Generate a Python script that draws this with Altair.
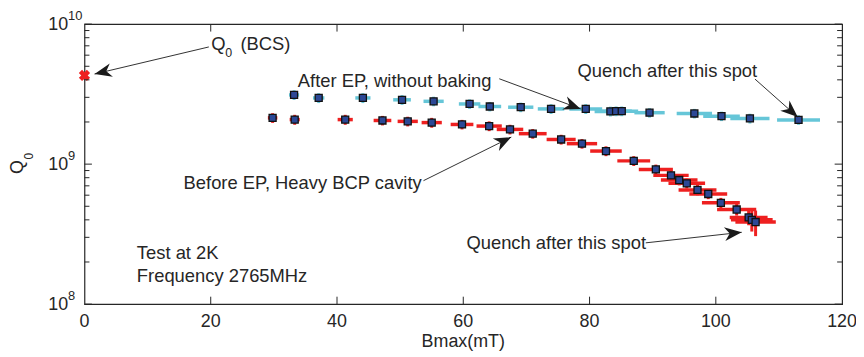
import math
import altair as alt
import pandas as pd

# ---------------- data ----------------
# After EP, without baking  (Q0 in units of 1e9)
after_b = [33.2, 37.1, 44.1, 50.3, 55.3, 61.0, 64.2, 69.1, 73.9, 79.4, 83.3, 84.2, 85.1, 89.5, 96.6, 100.9, 105.4, 113.1]
after_q = [3.12, 2.97, 2.97, 2.88, 2.81, 2.69, 2.58, 2.55, 2.48, 2.48, 2.38, 2.39, 2.39, 2.33, 2.30, 2.20, 2.12, 2.07]
after_berr = [0.8, 0.9, 1.2, 1.4, 1.6, 1.7, 1.8, 2.0, 2.1, 2.6, 2.5, 2.5, 2.6, 2.4, 2.8, 2.9, 3.1, 3.4]
after_qerr = [0.25, 0.24, 0.24, 0.23, 0.22, 0.21, 0.20, 0.20, 0.20, 0.20, 0.19, 0.19, 0.19, 0.18, 0.18, 0.17, 0.17, 0.16]

# Before EP, heavy BCP cavity
before_b = [29.8, 33.3, 41.3, 47.2, 51.2, 55.0, 59.8, 64.1, 67.4, 71.0, 75.5, 78.8, 82.6, 87.0, 90.5, 92.9, 94.2,
            95.4, 97.1, 98.8, 100.8, 103.3, 105.2, 105.7, 106.3]
before_q = [2.14, 2.08, 2.08, 2.05, 2.02, 1.98, 1.92, 1.87, 1.77, 1.65, 1.50, 1.40, 1.24, 1.055, 0.917, 0.831, 0.770,
            0.729, 0.654, 0.612, 0.529, 0.474, 0.416, 0.400, 0.386]
before_berr = [0.75, 0.8, 1.2, 1.4, 1.6, 1.6, 1.8, 2.0, 2.1, 2.2, 2.3, 2.4, 2.5, 2.6, 2.7, 2.8, 2.9, 2.9, 3.0, 3.0,
               3.0, 3.1, 3.0, 3.3, 3.2]
before_qerr = [0.17, 0.17, 0.17, 0.16, 0.16, 0.16, 0.15, 0.15, 0.14, 0.13, 0.12, 0.11, 0.10, 0.085, 0.075, 0.07,
               0.065, 0.06, 0.055, 0.05, 0.045, 0.045, 0.05, 0.07, 0.08]

# BCS value
bcs_b = [0.0]
bcs_q = [4.3]

# axis ticks
x_ticks = [0, 20, 40, 60, 80, 100, 120]
x_tick_labels = ["0", "20", "40", "60", "80", "100", "120"]
y_major = [1e8, 1e9, 1e10]
y_major_exp = ["8", "9", "10"]
y_minor = [2e8, 3e8, 4e8, 5e8, 6e8, 7e8, 8e8, 9e8, 2e9, 3e9, 4e9, 5e9, 6e9, 7e9, 8e9, 9e9]

# annotations: text (left anchored) in data coordinates
ann_text = ["Q", "(BCS)", "After EP, without baking", "Quench after this spot",
            "Before EP, Heavy BCP cavity", "Quench after this spot", "Test at 2K", "Frequency 2765MHz"]
ann_x = [20.1, 24.7, 33.8, 78.1, 15.7, 60.5, 8.3, 8.3]
ann_y = [7.17e9, 7.17e9, 3.94e9, 4.64e9, 7.33e8, 2.75e8, 2.32e8, 1.59e8]
sub_text = ["0"]
sub_x = [22.3]
sub_y = [6.18e9]

# arrows: start -> tip (data coordinates)
arrow_x0 = [19.7, 65.7, 106.2, 53.7, 88.9]
arrow_y0 = [6.87e9, 4.07e9, 4.05e9, 7.62e8, 2.74e8]
arrow_x1 = [1.6, 78.6, 112.97, 67.6, 104.1]
arrow_y1 = [4.40e9, 2.48e9, 2.17e9, 1.56e9, 3.26e8]

# ---------------- layout / style ----------------
W, H = 763, 282
XMAX = 120.0
FONT = "Liberation Sans, Arial, Helvetica, sans-serif"
TXT = "#262626"
CYAN = "#66c6d8"
RED = "#ee2020"
SQ_FILL = "#2c4896"

xs = alt.Scale(domain=[0, XMAX], nice=False, zero=False)
ys = alt.Scale(type="log", domain=[1e8, 1e10], nice=False)


def px(b):
    return b / XMAX * W


def py(q):
    return (10 - math.log10(q)) / 2 * H


def series_df(b, q, be, qe):
    return pd.DataFrame({
        "b": b,
        "q": [v * 1e9 for v in q],
        "blo": [v - e for v, e in zip(b, be)],
        "bhi": [v + e for v, e in zip(b, be)],
        "qlo": [(v - e) * 1e9 for v, e in zip(q, qe)],
        "qhi": [(v + e) * 1e9 for v, e in zip(q, qe)],
    })


after_df = series_df(after_b, after_q, after_berr, after_qerr)
before_df = series_df(before_b, before_q, before_berr, before_qerr)
points_df = pd.concat([after_df, before_df], ignore_index=True)


def X(field):
    return alt.X(field, scale=xs, axis=None)


def Y(field):
    return alt.Y(field, scale=ys, axis=None)


def hbars(df, color):
    return alt.Chart(df).mark_rule(color=color, strokeWidth=3.5).encode(
        x=X("blo:Q"), x2="bhi:Q", y=Y("q:Q"))


def vbars(df, color):
    return alt.Chart(df).mark_rule(color=color, strokeWidth=3).encode(
        x=X("b:Q"), y=Y("qlo:Q"), y2="qhi:Q")


squares = alt.Chart(points_df).mark_square(size=50, fill=SQ_FILL, stroke="#111111", strokeWidth=1.3,
                                           opacity=1).encode(x=X("b:Q"), y=Y("q:Q"))

bcs = alt.Chart(pd.DataFrame({"b": bcs_b, "q": [v * 1e9 for v in bcs_q]})).mark_point(
    shape="cross", angle=45, size=130, filled=True, color=RED, opacity=1).encode(x=X("b:Q"), y=Y("q:Q"))

# inward ticks
tick_layers = []
for vals, ln in [(y_major, 7.5), (y_minor, 5)]:
    d = pd.DataFrame({"q": vals})
    tick_layers.append(alt.Chart(d).mark_rule(color=TXT, strokeWidth=1).encode(
        x=alt.value(0), x2=alt.value(ln), y=Y("q:Q")))
    tick_layers.append(alt.Chart(d).mark_rule(color=TXT, strokeWidth=1).encode(
        x=alt.value(W), x2=alt.value(W - ln), y=Y("q:Q")))
xt = pd.DataFrame({"b": x_ticks[1:-1]})
tick_layers.append(alt.Chart(xt).mark_rule(color=TXT, strokeWidth=1).encode(
    x=X("b:Q"), y=alt.value(H), y2=alt.value(H - 7.5)))
tick_layers.append(alt.Chart(xt).mark_rule(color=TXT, strokeWidth=1).encode(
    x=X("b:Q"), y=alt.value(0), y2=alt.value(7.5)))

# x tick labels
xlab = alt.Chart(pd.DataFrame({"b": x_ticks, "t": x_tick_labels})).mark_text(
    align="center", baseline="top", font=FONT, fontSize=18, color=TXT).encode(
    x=X("b:Q"), y=alt.value(H + 9), text="t:N")

# y tick labels 10^n
ylab_df = pd.DataFrame({"q": y_major, "e": y_major_exp, "base": ["10"] * len(y_major)})
ylab = alt.Chart(ylab_df).mark_text(align="right", baseline="middle", font=FONT, fontSize=18, color=TXT,
                                    dy=1).encode(x=alt.value(-16.5), y=Y("q:Q"), text="base:N")
yexp = alt.Chart(ylab_df).mark_text(align="left", baseline="middle", font=FONT, fontSize=13, color=TXT,
                                    dy=-8.5).encode(x=alt.value(-16.5), y=Y("q:Q"), text="e:N")

# axis titles
titles = alt.Chart(pd.DataFrame({"t": ["Bmax(mT)"]})).mark_text(
    align="center", baseline="middle", font=FONT, fontSize=18, color=TXT).encode(
    x=alt.value(W / 2), y=alt.value(H + 38), text="t:N")
ytitle = alt.Chart(pd.DataFrame({"t": ["Q"]})).mark_text(
    align="center", baseline="middle", font=FONT, fontSize=18, color=TXT, angle=270).encode(
    x=alt.value(-66.5), y=alt.value(144), text="t:N")
ytitle_sub = alt.Chart(pd.DataFrame({"t": ["0"]})).mark_text(
    align="center", baseline="middle", font=FONT, fontSize=12, color=TXT, angle=270).encode(
    x=alt.value(-56), y=alt.value(133), text="t:N")

# annotations
ann = alt.Chart(pd.DataFrame({"t": ann_text, "b": ann_x, "q": ann_y})).mark_text(
    align="left", baseline="middle", font=FONT, fontSize=18.5, color=TXT).encode(
    x=X("b:Q"), y=Y("q:Q"), text="t:N")
sub = alt.Chart(pd.DataFrame({"t": sub_text, "b": sub_x, "q": sub_y})).mark_text(
    align="left", baseline="middle", font=FONT, fontSize=12.5, color=TXT).encode(
    x=X("b:Q"), y=Y("q:Q"), text="t:N")

angles = []
for a, b, c, d in zip(arrow_x0, arrow_y0, arrow_x1, arrow_y1):
    ang = math.degrees(math.atan2(py(d) - py(b), px(c) - px(a))) % 360
    angles.append(ang)
arr_df = pd.DataFrame({"x0": arrow_x0, "y0": arrow_y0, "x1": arrow_x1, "y1": arrow_y1, "ang": angles})
arr_lines = alt.Chart(arr_df).mark_rule(color="#1a1a1a", strokeWidth=0.9).encode(
    x=X("x0:Q"), x2="x1:Q", y=Y("y0:Q"), y2="y1:Q")
arr_heads = alt.Chart(arr_df).mark_point(
    shape="M0,0L-2,-0.8L-1.4,0L-2,0.8Z", size=300, filled=True, color="#1a1a1a", opacity=1,
    strokeWidth=0).encode(x=X("x1:Q"), y=Y("y1:Q"), angle=alt.Angle("ang:Q", scale=None))

chart = alt.layer(
    hbars(after_df, CYAN), vbars(after_df, CYAN),
    hbars(before_df, RED), vbars(before_df, RED),
    squares, bcs,
    *tick_layers,
    xlab, ylab, yexp, titles, ytitle, ytitle_sub,
    arr_lines, arr_heads, ann, sub,
).properties(
    width=W, height=H,
    autosize=alt.AutoSizeParams(type="none"),
    padding={"left": 77, "top": 15, "right": 14, "bottom": 52},
    background="white",
).configure_view(stroke=TXT, strokeWidth=1.2)

chart.save("out.html", embed_options={"renderer": "svg", "actions": False})
